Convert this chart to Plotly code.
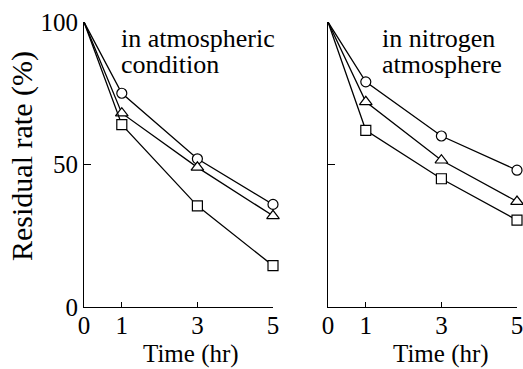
import plotly.graph_objects as go
from plotly.subplots import make_subplots

time_hr = [0, 1, 3, 5]
# in atmospheric condition
atm_circle = [100, 75, 52, 36]
atm_triangle = [100, 68, 49, 32]
atm_square = [100, 64, 35.5, 14.5]
# in nitrogen atmosphere
n2_circle = [100, 79, 60, 48]
n2_triangle = [100, 72, 51.5, 37]
n2_square = [100, 62, 45, 30.5]

x_ticks = [0, 1, 3, 5]
y_ticks = [0, 50, 100]

W, H = 523, 369
fig = make_subplots(rows=1, cols=2)

series = [
    (atm_circle, "circle", 10, 1),
    (atm_triangle, "triangle-up", 11, 1),
    (atm_square, "square", 10, 1),
    (n2_circle, "circle", 10, 2),
    (n2_triangle, "triangle-up", 11, 2),
    (n2_square, "square", 10, 2),
]
for vals, sym, sz, col in series:
    fig.add_trace(go.Scatter(
        x=time_hr, y=vals, mode="lines",
        line=dict(color="black", width=1.3), showlegend=False,
        cliponaxis=False), row=1, col=col)
    fig.add_trace(go.Scatter(
        x=time_hr[1:], y=vals[1:], mode="markers",
        marker=dict(symbol=sym, size=sz, color="white",
                    line=dict(color="black", width=1.2)),
        showlegend=False, cliponaxis=False), row=1, col=col)

tickfont = dict(family="Liberation Serif", size=25, color="black")
xd1 = [84 / W, 273 / W]
xd2 = [328 / W, 517 / W]
yd = [62 / H, 347 / H]

for i, xd in enumerate([xd1, xd2], start=1):
    fig.update_xaxes(row=1, col=i, domain=xd, range=[0, 5], tickvals=x_ticks,
                     ticktext=[str(v) for v in x_ticks], ticks="inside", ticklen=5,
                     tickcolor="black", showline=True, linecolor="black", linewidth=1.2,
                     showgrid=False, zeroline=False, tickfont=tickfont,
                     ticklabelstandoff=-4, automargin=False, ticklabeloverflow="allow")
    fig.update_yaxes(row=1, col=i, domain=yd, range=[0, 100], tickvals=[50, 100] if i == 2 else y_ticks,
                     ticks="inside", ticklen=7, tickcolor="black", showline=True,
                     linecolor="black", linewidth=1.2, showgrid=False, zeroline=False,
                     showticklabels=(i == 1), tickfont=tickfont, automargin=False,
                     ticklabeloverflow="allow")

txt = dict(family="Liberation Serif", size=26, color="black")
ttl = dict(family="Liberation Serif", size=25, color="black")
annotations = [
    dict(text="in atmospheric", x=120, y=38, xa="left", ya="middle", font=txt),
    dict(text="condition", x=120, y=64, xa="left", ya="middle", font=txt),
    dict(text="in nitrogen", x=381, y=38, xa="left", ya="middle", font=txt),
    dict(text="atmosphere", x=381, y=64, xa="left", ya="middle", font=txt),
    dict(text="Time (hr)", x=191, y=369, xa="center", ya="bottom", font=ttl),
    dict(text="Time (hr)", x=441, y=369, xa="center", ya="bottom", font=ttl),
]
for a in annotations:
    fig.add_annotation(text=a["text"], xref="paper", yref="paper",
                       x=a["x"] / W, y=1 - a["y"] / H, xanchor=a["xa"], yanchor=a["ya"],
                       showarrow=False, font=a["font"], borderpad=0)
fig.add_annotation(text="Residual rate (%)", xref="paper", yref="paper",
                   x=22 / W, y=1 - 156 / H, xanchor="center", yanchor="middle",
                   textangle=-90, showarrow=False,
                   font=dict(family="Liberation Serif", size=30, color="black"))

fig.update_layout(width=W, height=H, margin=dict(l=0, r=0, t=0, b=0, autoexpand=False),
                  paper_bgcolor="white", plot_bgcolor="white")
fig.write_html("out.html")
